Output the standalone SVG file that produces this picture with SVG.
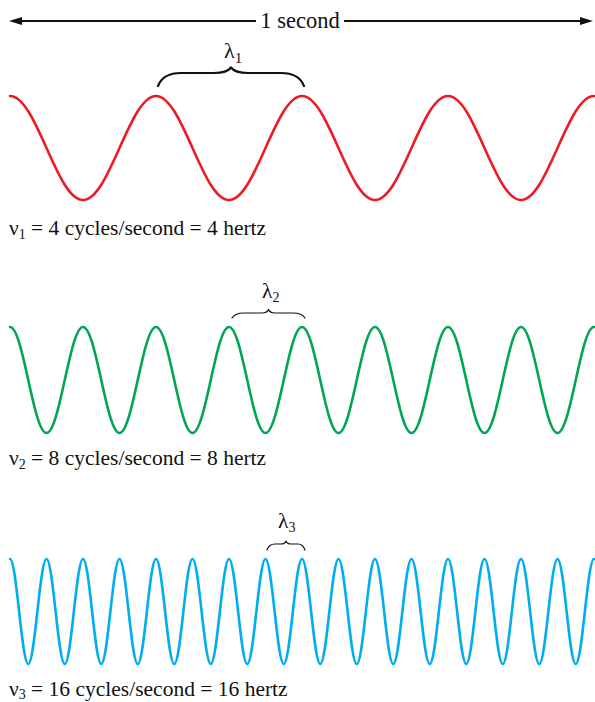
<svg xmlns="http://www.w3.org/2000/svg" width="595" height="702" viewBox="0 0 595 702">
<style>
text{font-family:"Liberation Serif","Times New Roman","DejaVu Serif",serif;fill:#111}
.w{fill:none;stroke-width:2.6;stroke-linecap:round;stroke-linejoin:round}
.b{fill:none;stroke:#111;stroke-linecap:round;stroke-linejoin:round}
</style>
<rect width="595" height="702" fill="#fff"/>
<g id="connectors">
<line x1="20" y1="21" x2="256" y2="21" stroke="#111" stroke-width="2"/>
<line x1="344" y1="21" x2="582" y2="21" stroke="#111" stroke-width="2"/>
<polygon points="9,21 22,17 22,25" fill="#111"/>
<polygon points="593,21 580,17 580,25" fill="#111"/>
</g>
<g id="title"><text font-family="Liberation Serif, serif" x="300" y="28" font-size="22.5" text-anchor="middle">1 second</text></g>
<g id="wave1">
<path class="w" stroke="#ED1C24" d="M10,96 c13.21,0 24.6,25.36 36.5,52 s23.29,52 36.5,52 s24.6,-25.36 36.5,-52 s23.29,-52 36.5,-52 s24.6,25.36 36.5,52 s23.29,52 36.5,52 s24.6,-25.36 36.5,-52 s23.29,-52 36.5,-52 s24.6,25.36 36.5,52 s23.29,52 36.5,52 s24.6,-25.36 36.5,-52 s23.29,-52 36.5,-52 s24.6,25.36 36.5,52 s23.29,52 36.5,52 s24.6,-25.36 36.5,-52 s23.29,-52 36.5,-52"/>
<path class="b" stroke-width="2.2" d="M158,86 Q163,73 181,73 L214,73 Q227,73 231,67.5 Q235,73 248,73 L281,73 Q299,73 304,86"/>
<text font-family="Liberation Serif, serif" x="224" y="58" font-size="22">λ<tspan font-size="15" dy="5">1</tspan></text>
<text font-family="Liberation Serif, serif" x="9" y="235" font-size="21.5">ν<tspan font-size="14" dy="4">1</tspan><tspan dy="-4"> = 4 cycles/second = 4 hertz</tspan></text>
</g>
<g id="wave2">
<path class="w" stroke="#00A651" d="M10,327 c6.605,0 12.3,25.85 18.25,53 s11.65,53 18.25,53 s12.3,-25.85 18.25,-53 s11.65,-53 18.25,-53 s12.3,25.85 18.25,53 s11.65,53 18.25,53 s12.3,-25.85 18.25,-53 s11.65,-53 18.25,-53 s12.3,25.85 18.25,53 s11.65,53 18.25,53 s12.3,-25.85 18.25,-53 s11.65,-53 18.25,-53 s12.3,25.85 18.25,53 s11.65,53 18.25,53 s12.3,-25.85 18.25,-53 s11.65,-53 18.25,-53 s12.3,25.85 18.25,53 s11.65,53 18.25,53 s12.3,-25.85 18.25,-53 s11.65,-53 18.25,-53 s12.3,25.85 18.25,53 s11.65,53 18.25,53 s12.3,-25.85 18.25,-53 s11.65,-53 18.25,-53 s12.3,25.85 18.25,53 s11.65,53 18.25,53 s12.3,-25.85 18.25,-53 s11.65,-53 18.25,-53 s12.3,25.85 18.25,53 s11.65,53 18.25,53 s12.3,-25.85 18.25,-53 s11.65,-53 18.25,-53"/>
<path class="b" stroke-width="1.2" d="M232,318 Q235,313 244,313 L262,313 Q267,313 268.5,309.5 Q270,313 275,313 L293,313 Q302,313 305,318"/>
<text font-family="Liberation Serif, serif" x="262" y="298" font-size="21.5">λ<tspan font-size="14" dy="4">2</tspan></text>
<text font-family="Liberation Serif, serif" x="9" y="465" font-size="21.5">ν<tspan font-size="14" dy="4">2</tspan><tspan dy="-4"> = 8 cycles/second = 8 hertz</tspan></text>
</g>
<g id="wave3">
<path class="w" stroke="#00AEEF" d="M10,559 c3.302,0 6.149,25.6 9.125,52.5 s5.823,52.5 9.125,52.5 s6.149,-25.6 9.125,-52.5 s5.823,-52.5 9.125,-52.5 s6.149,25.6 9.125,52.5 s5.823,52.5 9.125,52.5 s6.149,-25.6 9.125,-52.5 s5.823,-52.5 9.125,-52.5 s6.149,25.6 9.125,52.5 s5.823,52.5 9.125,52.5 s6.149,-25.6 9.125,-52.5 s5.823,-52.5 9.125,-52.5 s6.149,25.6 9.125,52.5 s5.823,52.5 9.125,52.5 s6.149,-25.6 9.125,-52.5 s5.823,-52.5 9.125,-52.5 s6.149,25.6 9.125,52.5 s5.823,52.5 9.125,52.5 s6.149,-25.6 9.125,-52.5 s5.823,-52.5 9.125,-52.5 s6.149,25.6 9.125,52.5 s5.823,52.5 9.125,52.5 s6.149,-25.6 9.125,-52.5 s5.823,-52.5 9.125,-52.5 s6.149,25.6 9.125,52.5 s5.823,52.5 9.125,52.5 s6.149,-25.6 9.125,-52.5 s5.823,-52.5 9.125,-52.5 s6.149,25.6 9.125,52.5 s5.823,52.5 9.125,52.5 s6.149,-25.6 9.125,-52.5 s5.823,-52.5 9.125,-52.5 s6.149,25.6 9.125,52.5 s5.823,52.5 9.125,52.5 s6.149,-25.6 9.125,-52.5 s5.823,-52.5 9.125,-52.5 s6.149,25.6 9.125,52.5 s5.823,52.5 9.125,52.5 s6.149,-25.6 9.125,-52.5 s5.823,-52.5 9.125,-52.5 s6.149,25.6 9.125,52.5 s5.823,52.5 9.125,52.5 s6.149,-25.6 9.125,-52.5 s5.823,-52.5 9.125,-52.5 s6.149,25.6 9.125,52.5 s5.823,52.5 9.125,52.5 s6.149,-25.6 9.125,-52.5 s5.823,-52.5 9.125,-52.5 s6.149,25.6 9.125,52.5 s5.823,52.5 9.125,52.5 s6.149,-25.6 9.125,-52.5 s5.823,-52.5 9.125,-52.5 s6.149,25.6 9.125,52.5 s5.823,52.5 9.125,52.5 s6.149,-25.6 9.125,-52.5 s5.823,-52.5 9.125,-52.5 s6.149,25.6 9.125,52.5 s5.823,52.5 9.125,52.5 s6.149,-25.6 9.125,-52.5 s5.823,-52.5 9.125,-52.5 s6.149,25.6 9.125,52.5 s5.823,52.5 9.125,52.5 s6.149,-25.6 9.125,-52.5 s5.823,-52.5 9.125,-52.5"/>
<path class="b" stroke-width="1.2" d="M267,550 Q269,544 275,544 L281,544 Q285,544 286,541 Q287,544 291,544 L298,544 Q303,544 305,550"/>
<text font-family="Liberation Serif, serif" x="278" y="528" font-size="21.5">λ<tspan font-size="14" dy="4">3</tspan></text>
<text font-family="Liberation Serif, serif" x="9" y="696" font-size="21.5">ν<tspan font-size="14" dy="3">3</tspan><tspan dy="-3"> = 16 cycles/second = 16 hertz</tspan></text>
</g>
</svg>
